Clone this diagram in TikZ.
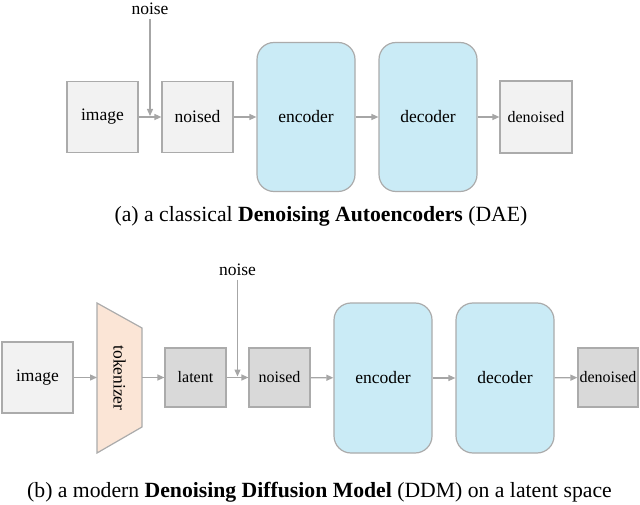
\documentclass[tikz,border=0pt]{standalone}
\usepackage{fontspec}
\setmainfont{Liberation Serif}
\usetikzlibrary{arrows.meta}
\definecolor{boxgray}{HTML}{F2F2F2}
\definecolor{darkbox}{HTML}{D9D9D9}
\definecolor{bluebox}{HTML}{CAEBF6}
\definecolor{tokfill}{HTML}{FBE5D6}
\definecolor{edgec}{HTML}{ABABAB}
\definecolor{arrowc}{HTML}{A6A6A6}
\begin{document}
\begin{tikzpicture}[x=1pt,y=-1pt,
  lbl/.style={font=\fontsize{17.5}{20}\selectfont},
  smalllbl/.style={font=\fontsize{16}{18}\selectfont},
  sqbox/.style={draw=edgec, line width=1.2pt, fill=boxgray, inner sep=0pt, lbl},
  darksq/.style={draw=edgec, line width=1.2pt, fill=darkbox, inner sep=0pt, lbl},
  netbox/.style={draw=edgec, line width=1.2pt, fill=bluebox, inner sep=0pt, rounded corners=17pt, minimum width=98pt, minimum height=149pt, lbl},
  arr/.style={draw=arrowc, line width=1.3pt, -{Triangle[length=7pt,width=6pt]}},
  capt/.style={font=\fontsize{21.7}{26}\selectfont, anchor=base, inner sep=0pt}
]
\useasboundingbox (0,0) rectangle (640,505);
% ---------- (a) ----------
\node[sqbox, minimum width=71pt, minimum height=71pt] (imgA) at (102.5,117) {image};
\node[sqbox, minimum width=71pt, minimum height=71pt] (noisedA) at (197.5,117) {noised};
\node[netbox] (encA) at (306,117) {encoder};
\node[netbox] (decA) at (428,117) {decoder};
\node[sqbox, smalllbl, minimum width=72pt, minimum height=72pt] (denA) at (536,117) {denoised};
\node[lbl, anchor=base] (noiseA) at (150,15) {noise};
\coordinate (jA) at (150,117);
\draw[arr] (imgA) -- (noisedA);
\draw[arr, shorten >=1pt] (noiseA) -- (jA);
\draw[arr] (noisedA) -- (encA);
\draw[arr] (encA) -- (decA);
\draw[arr] (decA) -- (denA);
\node[capt] (capA) at (321,222) {(a) a classical \textbf{Denoising Autoencoders} (DAE)};
% ---------- (b) ----------
\node[sqbox, minimum width=71pt, minimum height=71pt] (imgB) at (37.5,377.5) {image};
\draw[draw=edgec, line width=1.2pt, fill=tokfill] (97,303) -- (142,328) -- (142,427) -- (97,453) -- cycle;
\node[lbl, rotate=-90] (tok) at (119.5,378) {tokenizer};
\coordinate (tokL) at (97,377.5);
\coordinate (tokR) at (142,377.5);
\node[darksq, smalllbl, minimum width=61pt, minimum height=59pt] (latB) at (195.5,377.5) {latent};
\node[darksq, smalllbl, minimum width=61pt, minimum height=59pt] (noisedB) at (279.5,377.5) {noised};
\node[netbox, minimum height=150pt] (encB) at (383,378) {encoder};
\node[netbox, minimum height=150pt] (decB) at (505,378) {decoder};
\node[darksq, smalllbl, minimum width=60pt, minimum height=59pt] (denB) at (608,377.5) {denoised};
\node[lbl, anchor=base] (noiseB) at (237.5,276) {noise};
\coordinate (jB) at (237.5,377.5);
\draw[arr] (imgB) -- (tokL);
\draw[arr] (tokR) -- (latB);
\draw[arr] (latB) -- (noisedB);
\draw[arr, shorten >=1pt] (noiseB) -- (jB);
\draw[arr] (noisedB) -- (encB);
\draw[arr] (encB) -- (decB);
\draw[arr] (decB) -- (denB);
\node[capt] (capB) at (319.5,497) {(b) a modern \textbf{Denoising Diffusion Model} (DDM) on a latent space};
\end{tikzpicture}
\end{document}
